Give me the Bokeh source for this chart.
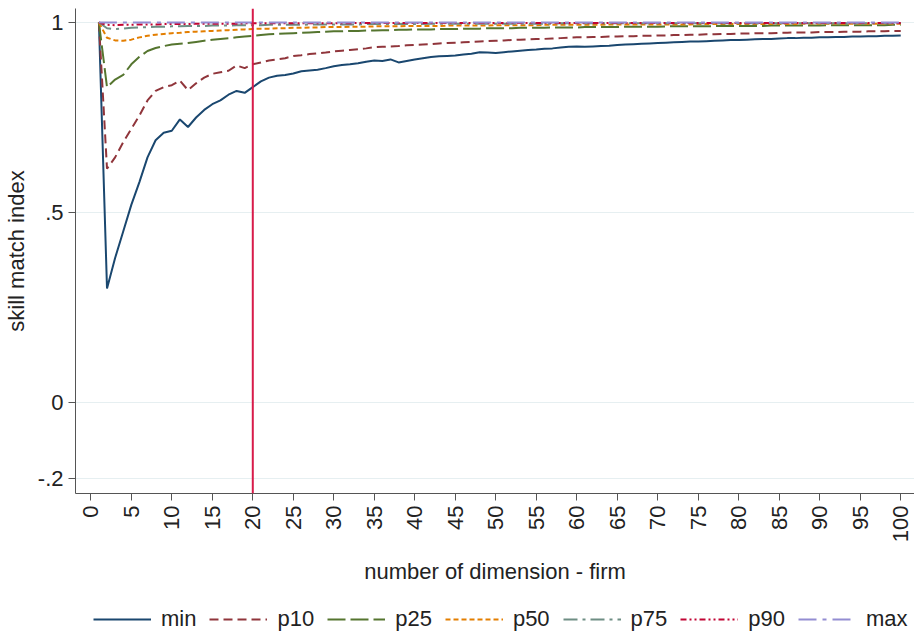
from bokeh.plotting import figure
from bokeh.models import (Range1d, FixedTicker, Span, Legend, LegendItem, ColumnDataSource)
from bokeh.layouts import column
from bokeh.embed import file_html
from bokeh.resources import INLINE

dims = list(range(1, 101))

s_min = [1.0, 0.30, 0.38, 0.45, 0.52, 0.58, 0.645, 0.69, 0.71, 0.715,
         0.745, 0.725, 0.75, 0.77, 0.785, 0.795, 0.81, 0.82, 0.815, 0.83,
         0.845, 0.855, 0.86, 0.862, 0.866, 0.872, 0.874, 0.876, 0.88, 0.885,
         0.888, 0.89, 0.893, 0.897, 0.90, 0.899, 0.903, 0.895, 0.899, 0.903,
         0.906, 0.909, 0.911, 0.912, 0.913, 0.916, 0.918, 0.922, 0.921, 0.920,
         0.922, 0.924, 0.926, 0.928, 0.929, 0.931, 0.932, 0.934, 0.936, 0.937,
         0.936, 0.937, 0.938, 0.939, 0.941, 0.942, 0.943, 0.944, 0.945, 0.946,
         0.947, 0.948, 0.949, 0.950, 0.950, 0.951, 0.952, 0.953, 0.954, 0.954,
         0.955, 0.956, 0.957, 0.957, 0.958, 0.959, 0.959, 0.960, 0.960, 0.961,
         0.961, 0.962, 0.962, 0.963, 0.963, 0.964, 0.964, 0.965, 0.965, 0.966]

s_p10 = [1.0, 0.615, 0.645, 0.685, 0.72, 0.755, 0.795, 0.82, 0.83, 0.835,
         0.847, 0.822, 0.84, 0.855, 0.865, 0.869, 0.873, 0.887, 0.88, 0.89,
         0.895, 0.90, 0.903, 0.906, 0.912, 0.914, 0.917, 0.919, 0.921, 0.924,
         0.926, 0.928, 0.930, 0.932, 0.935, 0.936, 0.937, 0.938, 0.940, 0.941,
         0.942, 0.943, 0.945, 0.946, 0.947, 0.948, 0.949, 0.950, 0.951, 0.952,
         0.953, 0.954, 0.955, 0.956, 0.957, 0.957, 0.958, 0.959, 0.960, 0.961,
         0.961, 0.962, 0.962, 0.963, 0.963, 0.964, 0.964, 0.965, 0.965, 0.966,
         0.966, 0.967, 0.967, 0.968, 0.968, 0.969, 0.969, 0.970, 0.970, 0.971,
         0.971, 0.972, 0.972, 0.972, 0.973, 0.973, 0.974, 0.974, 0.974, 0.975,
         0.975, 0.975, 0.976, 0.976, 0.976, 0.977, 0.977, 0.977, 0.978, 0.978]

s_p25 = [1.0, 0.83, 0.85, 0.862, 0.89, 0.91, 0.925, 0.933, 0.938, 0.942,
         0.944, 0.946, 0.949, 0.952, 0.955, 0.957, 0.959, 0.961, 0.963, 0.965,
         0.967, 0.969, 0.970, 0.971, 0.972, 0.973, 0.974, 0.975, 0.976, 0.977,
         0.977, 0.978, 0.978, 0.979, 0.979, 0.980, 0.980, 0.981, 0.981, 0.982,
         0.982, 0.982, 0.983, 0.983, 0.983, 0.984, 0.984, 0.984, 0.985, 0.985,
         0.985, 0.985, 0.986, 0.986, 0.986, 0.986, 0.987, 0.987, 0.987, 0.987,
         0.988, 0.988, 0.988, 0.988, 0.988, 0.989, 0.989, 0.989, 0.989, 0.989,
         0.990, 0.990, 0.990, 0.990, 0.990, 0.990, 0.991, 0.991, 0.991, 0.991,
         0.991, 0.991, 0.991, 0.992, 0.992, 0.992, 0.992, 0.992, 0.992, 0.992,
         0.993, 0.993, 0.993, 0.993, 0.993, 0.993, 0.993, 0.993, 0.994, 0.994]

s_p50 = [1.0, 0.96, 0.953, 0.952, 0.955, 0.961, 0.965, 0.968, 0.970, 0.972,
         0.973, 0.975, 0.976, 0.977, 0.978, 0.979, 0.980, 0.981, 0.982, 0.983,
         0.984, 0.984, 0.985, 0.985, 0.986, 0.986, 0.987, 0.987, 0.988, 0.988,
         0.988, 0.989, 0.989, 0.989, 0.990, 0.990, 0.990, 0.990, 0.991, 0.991,
         0.991, 0.991, 0.991, 0.992, 0.992, 0.992, 0.992, 0.992, 0.992, 0.993,
         0.993, 0.993, 0.993, 0.993, 0.993, 0.994, 0.994, 0.994, 0.994, 0.994,
         0.994, 0.994, 0.994, 0.995, 0.995, 0.995, 0.995, 0.995, 0.995, 0.995,
         0.995, 0.995, 0.995, 0.995, 0.996, 0.996, 0.996, 0.996, 0.996, 0.996,
         0.996, 0.996, 0.996, 0.996, 0.996, 0.996, 0.996, 0.997, 0.997, 0.997,
         0.997, 0.997, 0.997, 0.997, 0.997, 0.997, 0.997, 0.997, 0.997, 0.997]

s_p75 = [1.0, 0.985, 0.983, 0.984, 0.986, 0.987, 0.988, 0.989, 0.989, 0.990,
         0.990, 0.991, 0.991, 0.991, 0.992, 0.992, 0.992, 0.993, 0.993, 0.993,
         0.993, 0.994, 0.994, 0.994, 0.994, 0.994, 0.995, 0.995, 0.995, 0.995,
         0.995, 0.995, 0.995, 0.996, 0.996, 0.996, 0.996, 0.996, 0.996, 0.996,
         0.996, 0.997, 0.997, 0.997, 0.997, 0.997, 0.997, 0.997, 0.997, 0.997,
         0.997, 0.997, 0.997, 0.997, 0.997, 0.997, 0.997, 0.998, 0.998, 0.998,
         0.998, 0.998, 0.998, 0.998, 0.998, 0.998, 0.998, 0.998, 0.998, 0.998,
         0.998, 0.998, 0.998, 0.998, 0.998, 0.998, 0.998, 0.998, 0.998, 0.998,
         0.998, 0.998, 0.998, 0.998, 0.998, 0.998, 0.998, 0.998, 0.998, 0.998,
         0.998, 0.998, 0.998, 0.998, 0.998, 0.998, 0.998, 0.998, 0.998, 0.998]

s_p90 = [1.0, 0.994, 0.993, 0.994, 0.994, 0.995, 0.995, 0.995, 0.996, 0.996,
         0.996, 0.996, 0.997, 0.997, 0.997, 0.997, 0.997, 0.997, 0.998, 0.998,
         0.998, 0.998, 0.998, 0.998, 0.998, 0.998, 0.998, 0.998, 0.998, 0.998,
         0.998, 0.998, 0.999, 0.999, 0.999, 0.999, 0.999, 0.999, 0.999, 0.999,
         0.999, 0.999, 0.999, 0.999, 0.999, 0.999, 0.999, 0.999, 0.999, 0.999,
         0.999, 0.999, 0.999, 0.999, 0.999, 0.999, 0.999, 0.999, 0.999, 0.999,
         0.999, 0.999, 0.999, 0.999, 0.999, 0.999, 0.999, 0.999, 0.999, 0.999,
         0.999, 0.999, 0.999, 0.999, 0.999, 0.999, 0.999, 0.999, 0.999, 0.999,
         0.999, 0.999, 0.999, 0.999, 0.999, 0.999, 0.999, 0.999, 0.999, 0.999,
         0.999, 0.999, 0.999, 0.999, 0.999, 0.999, 0.999, 0.999, 0.999, 0.999]

s_max = [1.0] * 100

series_names = ["min", "p10", "p25", "p50", "p75", "p90", "max"]
series_values = [s_min, s_p10, s_p25, s_p50, s_p75, s_p90, s_max]
series_colors = ["#1a476f", "#90353b", "#55752f", "#e37e00", "#6e8e84", "#c10534", "#938dd2"]
series_dashes = ["solid", "9 5", "18 5", "5 3", "14 5 3 5", "6 3 2 3 2 3", "18 6 4 6"]

x_ticks = list(range(0, 101, 5))
y_ticks = [-0.2, 0, 0.5, 1]
y_tick_labels = {-0.2: "-.2", 0: "0", 0.5: ".5", 1: "1"}
cutoff = 20

FONT = "Liberation Sans"
FS = "22px"

p = figure(width=914, height=599, output_backend="svg", toolbar_location=None,
           x_range=Range1d(-1.89, 101.7), y_range=Range1d(-0.24, 1.037),
           min_border_left=71, min_border_right=0, min_border_top=8, min_border_bottom=106)
p.outline_line_color = None
p.background_fill_color = "white"

for name, vals, col, dash in zip(series_names, series_values, series_colors, series_dashes):
    src = ColumnDataSource(dict(x=dims, y=vals))
    p.line("x", "y", source=src, line_color=col, line_width=2, line_dash=dash)

p.add_layout(Span(location=cutoff, dimension="height", line_color="#d81b4a", line_width=2))

# axes
p.xaxis.ticker = FixedTicker(ticks=x_ticks)
p.yaxis.ticker = FixedTicker(ticks=y_ticks)
p.yaxis.major_label_overrides = y_tick_labels
p.xaxis.major_label_orientation = 1.5708
p.xgrid.visible = False
p.ygrid.grid_line_color = "#e6eff1"
p.ygrid.grid_line_width = 1.2
for ax in (p.xaxis[0], p.yaxis[0]):
    ax.axis_line_color = "#555555"
    ax.major_tick_line_color = "#555555"
    ax.major_tick_out = 7
    ax.major_tick_in = 0
    ax.minor_tick_line_color = None
    ax.major_label_text_font = FONT
    ax.major_label_text_font_size = FS
    ax.major_label_text_color = "#222222"
    ax.axis_label_text_font = FONT
    ax.axis_label_text_font_size = FS
    ax.axis_label_text_font_style = "normal"
    ax.axis_label_text_color = "#222222"
p.xaxis.axis_label = "number of dimension - firm"
p.yaxis.axis_label = "skill match index"
p.xaxis.major_label_standoff = 5
p.yaxis.major_label_standoff = 5
p.xaxis.axis_label_standoff = 14
p.yaxis.axis_label_standoff = 6

# legend in its own strip below the chart (series drawn out of view, only keys show)
pl = figure(width=914, height=36, output_backend="svg", toolbar_location=None,
            x_range=Range1d(0, 100), y_range=Range1d(5, 6),
            min_border_left=71, min_border_right=0, min_border_top=0, min_border_bottom=0)
pl.axis.visible = False
pl.grid.visible = False
pl.outline_line_color = None
items = []
for name, vals, col, dash in zip(series_names, series_values, series_colors, series_dashes):
    src = ColumnDataSource(dict(x=dims, y=vals))
    r = pl.line("x", "y", source=src, line_color=col, line_width=2, line_dash=dash)
    items.append(LegendItem(label=name, renderers=[r]))
legend = Legend(items=items, orientation="horizontal", location=(18, 3),
                label_text_font=FONT, label_text_font_size=FS, label_text_color="#222222",
                glyph_width=58, glyph_height=20, label_standoff=10, spacing=13,
                border_line_color=None, background_fill_alpha=0,
                padding=2, margin=0)
pl.add_layout(legend, "center")

layout = column(p, pl, spacing=0)
open("out.html", "w").write(file_html(layout, INLINE))
